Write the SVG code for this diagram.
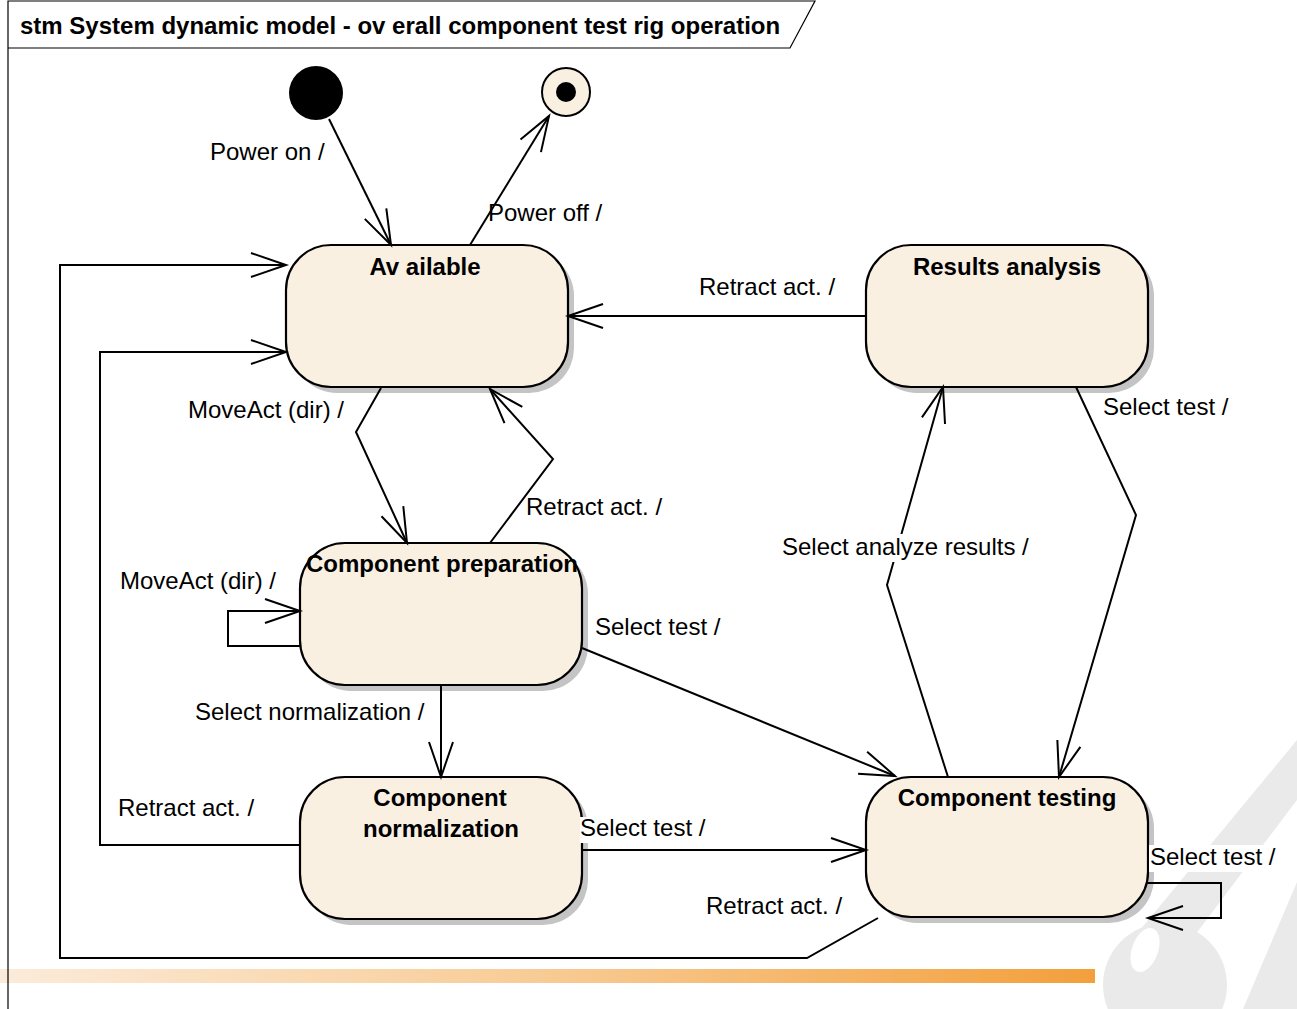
<svg xmlns="http://www.w3.org/2000/svg" width="1297" height="1009" viewBox="0 0 1297 1009">
  <style>
    .lbl { font-family: "Liberation Sans", Arial, sans-serif; font-size: 24px; fill: #000; }
    .ttl { font-family: "Liberation Sans", Arial, sans-serif; font-size: 24px; font-weight: bold; fill: #000; text-anchor: middle; }
    .state { fill: #FAF0E2; stroke: #000; stroke-width: 2.2; }
    .shadow { fill: #C4C4C4; }
    .conn { fill: none; stroke: #000; stroke-width: 2; marker-end: url(#open); }
    .frame { fill: none; stroke: #000; stroke-width: 1.2; }
    .bg { fill: #fff; }
  </style>
  <defs>
    <marker id="open" markerUnits="userSpaceOnUse" viewBox="-38 -15 40 30" markerWidth="40" markerHeight="30" refX="0" refY="0" orient="auto" overflow="visible">
      <path d="M-35,-12 L0,0 L-35,12" fill="none" stroke="#000" stroke-width="2"/>
    </marker>
    <linearGradient id="band" x1="0" y1="0" x2="1" y2="0">
      <stop offset="0" stop-color="#FCEBDA"/>
      <stop offset="0.5" stop-color="#F8CB94"/>
      <stop offset="1" stop-color="#F39F3C"/>
    </linearGradient>
  </defs>

  <rect width="1297" height="1009" fill="#fff"/>

  <!-- background logo and footer band -->
  <g id="backdrop">
    <polygon points="1297,740 1297,800 1195,935 1140,930" fill="#EAEAEA"/>
    <circle cx="1165" cy="985" r="62" fill="#EAEAEA"/>
    <ellipse cx="1145" cy="950" rx="13" ry="23" transform="rotate(20 1145 950)" fill="#fff"/>
    <polygon points="1297,882 1297,1009 1243,1009" fill="#EAEAEA"/>
    <rect x="0" y="969" width="1095" height="14" fill="url(#band)"/>
  </g>

  <!-- diagram frame with title tab -->
  <g id="frame">
    <path class="frame" d="M8,1009 L8,1 L815,1 L790,48 L8,48"/>
    <text x="20" y="34" class="lbl" font-weight="bold">stm System dynamic model - ov erall component test rig operation</text>
  </g>

  <!-- pseudo-states -->
  <g id="initial">
    <circle cx="316" cy="93" r="27" fill="#000"/>
  </g>
  <g id="final">
    <circle cx="566" cy="92" r="24" fill="#FAF0E2" stroke="#000" stroke-width="2"/>
    <circle cx="566" cy="92" r="10" fill="#000"/>
  </g>

  <!-- states -->
  <g id="available">
    <rect class="shadow" x="292" y="251" width="282" height="142" rx="45"/>
    <rect class="state" x="286" y="245" width="282" height="142" rx="45"/>
    <text class="ttl" x="425" y="275">Av ailable</text>
  </g>
  <g id="results-analysis">
    <rect class="shadow" x="872" y="251" width="282" height="142" rx="45"/>
    <rect class="state" x="866" y="245" width="282" height="142" rx="45"/>
    <text class="ttl" x="1007" y="275">Results analysis</text>
  </g>
  <g id="component-preparation">
    <rect class="shadow" x="306" y="549" width="282" height="142" rx="45"/>
    <rect class="state" x="300" y="543" width="282" height="142" rx="45"/>
    <text class="ttl" x="442" y="572">Component preparation</text>
  </g>
  <g id="component-normalization">
    <rect class="shadow" x="306" y="783" width="282" height="142" rx="45"/>
    <rect class="state" x="300" y="777" width="282" height="142" rx="45"/>
    <text class="ttl" x="440" y="806">Component</text>
    <text class="ttl" x="441" y="837">normalization</text>
  </g>
  <g id="component-testing">
    <rect class="shadow" x="872" y="783" width="282" height="140" rx="45"/>
    <rect class="state" x="866" y="777" width="282" height="140" rx="45"/>
    <text class="ttl" x="1007" y="806">Component testing</text>
  </g>

  <!-- transitions -->
  <g id="connectors">
    <path class="conn" d="M329,119 L391,245"/>
    <path class="conn" d="M470,245 L549,116"/>
    <path class="conn" d="M866,316 L568,316"/>
    <path class="conn" d="M381,388 L356,432 L407,543"/>
    <path class="conn" d="M490,543 L553,459 L490,389"/>
    <path class="conn" d="M300,646 L228,646 L228,611 L300,611"/>
    <path class="conn" d="M441,685 L441,777"/>
    <path class="conn" d="M582,648 L895,776"/>
    <path class="conn" d="M582,850 L866,850"/>
    <path class="conn" d="M300,845 L100,845 L100,352 L286,352"/>
    <path class="conn" d="M878,918 L807,958 L60,958 L60,265 L286,265"/>
    <path class="conn" d="M948,777 L887,585 L943,387"/>
    <path class="conn" d="M1076,387 L1136,515 L1059,777"/>
    <path class="conn" d="M1146,883 L1221,883 L1221,918 L1148,918"/>

    <text class="lbl" x="210" y="160">Power on /</text>
    <text class="lbl" x="488" y="221">Power off /</text>
    <text class="lbl" x="699" y="295">Retract act. /</text>
    <text class="lbl" x="188" y="418">MoveAct (dir) /</text>
    <text class="lbl" x="1103" y="415">Select test /</text>
    <text class="lbl" x="526" y="515">Retract act. /</text>
    <rect class="bg" x="780" y="534" width="258" height="28"/>
    <text class="lbl" x="782" y="555">Select analyze results /</text>
    <text class="lbl" x="120" y="589">MoveAct (dir) /</text>
    <text class="lbl" x="595" y="635">Select test /</text>
    <text class="lbl" x="195" y="720">Select normalization /</text>
    <text class="lbl" x="118" y="816">Retract act. /</text>
    <rect class="bg" x="580" y="817" width="132" height="26"/>
    <text class="lbl" x="580" y="836">Select test /</text>
    <rect class="bg" x="1149" y="845" width="133" height="27"/>
    <text class="lbl" x="1150" y="865">Select test /</text>
    <text class="lbl" x="706" y="914">Retract act. /</text>
  </g>
</svg>
